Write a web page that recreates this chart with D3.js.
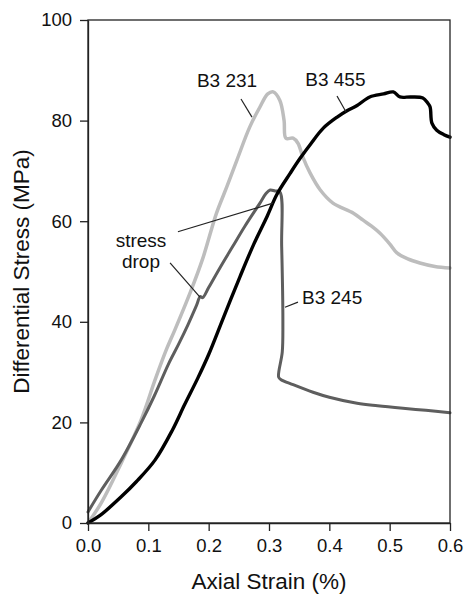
<!DOCTYPE html>
<html><head><meta charset="utf-8">
<script src="https://cdn.jsdelivr.net/npm/d3@7"></script>
<style>body{margin:0;background:#fff}svg{display:block}text{font-family:"Liberation Sans",Arial,sans-serif}</style>
</head><body><svg id="c" width="465" height="595"></svg>
<script>
const xTicks = [0, 0.1, 0.2, 0.3, 0.4, 0.5, 0.6];
const yTicks = [0, 20, 40, 60, 80, 100];

const b3_231 = [[0,0],[0.022,4],[0.055,11.9],[0.088,20.5],[0.111,28.4],[0.13,34.5],[0.144,38.4],[0.17,46],[0.19,52.5],[0.213,61.6],[0.23,66.8],[0.247,72.2],[0.268,78.7],[0.285,82.7],[0.298,85.3],[0.307,85.7],[0.318,84],[0.325,80],[0.328,76.5],[0.34,76.5],[0.348,75.5],[0.356,72.8],[0.368,69.6],[0.385,66.2],[0.406,63.6],[0.44,61.6],[0.456,60.2],[0.47,59],[0.484,57.6],[0.5,55.5],[0.512,53.7],[0.53,52.5],[0.55,51.7],[0.575,51],[0.6,50.7]];

const b3_245 = [[0,2.2],[0.022,6.5],[0.055,12.5],[0.088,19.9],[0.11,25.3],[0.133,31.5],[0.15,35.5],[0.166,39.5],[0.18,43.3],[0.186,45],[0.19,44.8],[0.2,46.8],[0.22,51],[0.24,55],[0.26,59],[0.285,63.6],[0.295,65.5],[0.302,66.2],[0.31,66],[0.318,65.8],[0.321,55],[0.323,40],[0.322,34],[0.316,29],[0.32,28.5],[0.34,27.5],[0.373,26],[0.4,25],[0.446,23.8],[0.48,23.3],[0.522,22.8],[0.56,22.4],[0.6,21.9]];

const b3_455 = [[0,0],[0.02,1.5],[0.055,5.2],[0.08,8.2],[0.111,12.5],[0.14,18.5],[0.16,23.5],[0.182,28.8],[0.2,33.5],[0.225,41],[0.252,49],[0.275,55.5],[0.297,61],[0.313,65.3],[0.335,69.5],[0.351,72.4],[0.37,75.5],[0.39,78.5],[0.413,80.7],[0.43,82],[0.446,83],[0.467,84.7],[0.49,85.3],[0.506,85.7],[0.517,84.7],[0.535,84.7],[0.555,84.5],[0.563,83.5],[0.567,82.7],[0.57,79.5],[0.578,78.1],[0.59,77.2],[0.6,76.7]];

const seriesNames = ["B3 231", "B3 245", "B3 455"];
const seriesColors = ["#bdbdbd", "#5e5e5e", "#000000"];
const seriesWidths = [3.5, 3, 3.4];

// annotation labels [text, x, y, anchor] and leader lines [x1,y1,x2,y2] in data units
const labels = [["B3 231",0.2304,86.7,"middle"],["B3 455",0.410,86.9,"middle"],["stress",0.0878,54.9,"middle"],["drop",0.0878,50.7,"middle"],["B3 245",0.3547,43.5,"start"]];
const leaders = [[0.2536,84.3,0.2718,80.7],[0.4127,84.9,0.4277,81.7],[0.149,57.9,0.3066,63.6],[0.136,51.7,0.1856,44.9],[0.3265,42.9,0.348,43.9]];

const svg = d3.select("#c");
const x = d3.scaleLinear().domain([0,0.6]).range([88,450]);
const y = d3.scaleLinear().domain([0,100]).range([523,20]);

const line = d3.line().x(d=>x(d[0])).y(d=>y(d[1])).curve(d3.curveCatmullRom.alpha(0.5));
[b3_231, b3_245, b3_455].forEach((s,i)=>{
  svg.append("path").datum(s).attr("d",line).attr("fill","none")
    .attr("stroke",seriesColors[i]).attr("stroke-width",seriesWidths[i])
    .attr("stroke-linejoin","round").attr("stroke-linecap","round");
});

// frame
svg.append("rect").attr("x",x(0)).attr("y",y(100)).attr("width",x(0.6)-x(0)).attr("height",y(0)-y(100))
  .attr("fill","none").attr("stroke","#222").attr("stroke-width",1.3);

const xa = svg.append("g").attr("transform",`translate(0,${y(0)})`)
  .call(d3.axisBottom(x).tickValues(xTicks).tickFormat(d3.format(".1f")).tickSize(8).tickSizeOuter(0).tickPadding(8));
const ya = svg.append("g").attr("transform",`translate(${x(0)},0)`)
  .call(d3.axisLeft(y).tickValues(yTicks).tickSize(8).tickSizeOuter(0).tickPadding(8));
[xa,ya].forEach(a=>{
  a.select(".domain").attr("stroke","#222").attr("stroke-width",1.3);
  a.selectAll(".tick line").attr("stroke","#222").attr("stroke-width",1.3);
  a.selectAll(".tick text").attr("font-size",18.5).attr("fill","#111").style("font-family",'"Liberation Sans",Arial,sans-serif');
});

svg.append("text").attr("x",(x(0)+x(0.6))/2).attr("y",589).attr("text-anchor","middle")
  .attr("font-size",22.5).attr("fill","#111").text("Axial Strain (%)");
svg.append("text").attr("transform",`translate(29,${(y(0)+y(100))/2}) rotate(-90)`).attr("text-anchor","middle")
  .attr("font-size",22.5).attr("fill","#111").text("Differential Stress (MPa)");

leaders.forEach(l=>{
  svg.append("line").attr("x1",x(l[0])).attr("y1",y(l[1])).attr("x2",x(l[2])).attr("y2",y(l[3]))
    .attr("stroke","#222").attr("stroke-width",1.2);
});
labels.forEach(l=>{
  svg.append("text").attr("x",x(l[1])).attr("y",y(l[2])).attr("text-anchor",l[3])
    .attr("font-size",19).attr("fill","#111").text(l[0]);
});
</script></body></html>
